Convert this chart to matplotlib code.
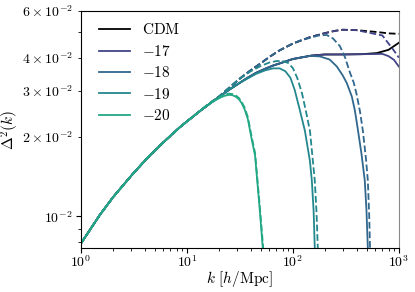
import numpy as np
import matplotlib
matplotlib.use("Agg")
import matplotlib.pyplot as plt

plt.rcParams["mathtext.fontset"] = "cm"
plt.rcParams["font.family"] = "serif"
plt.rcParams["font.serif"] = ["cmr10", "DejaVu Serif"]
plt.rcParams["axes.formatter.use_mathtext"] = True
plt.rcParams["font.size"] = 10

# values (k in h/Mpc, Delta^2)
k_cdm = [1, 1.5, 2, 3, 4.2, 6, 8.6, 10, 13.3, 17.6, 25, 31.6, 36.8, 45, 55, 65, 75,
         100, 150, 200, 300, 450, 620, 800, 1000]
d_cdm = [0.0079, 0.0101, 0.0118, 0.0143, 0.0166, 0.0191, 0.0218, 0.0229, 0.0251,
         0.0273, 0.0302, 0.0321, 0.0334, 0.0350, 0.0363, 0.0373, 0.0380, 0.0395,
         0.0407, 0.0411, 0.0411, 0.0412, 0.0416, 0.0428, 0.0455]

k_cdm_d = [1, 1.5, 2, 3, 4.2, 6, 8.6, 10, 13.3, 17.6, 20, 25, 31.6, 40, 50, 60, 75,
           100, 145, 200, 250, 296, 400, 620, 800, 1000]
d_cdm_d = [0.0079, 0.0101, 0.0118, 0.0143, 0.0166, 0.0191, 0.0218, 0.0229, 0.0251,
           0.0274, 0.0284, 0.0307, 0.0333, 0.0358, 0.0381, 0.0402, 0.0426, 0.0452,
           0.0478, 0.0495, 0.0505, 0.0510, 0.0508, 0.0500, 0.0494, 0.0492]

k_17 = k_cdm[:-3] + [700, 800, 900, 1000]
d_17 = d_cdm[:-3] + [0.0413, 0.0405, 0.0392, 0.0370]
k_17_d = k_cdm_d[:-3] + [700, 800, 900, 1000]
d_17_d = d_cdm_d[:-3] + [0.0485, 0.0452, 0.0425, 0.0400]

k_18 = k_cdm[:18] + [145, 180, 223, 260, 296, 323, 360, 385, 411, 445, 477, 495, 510, 540]
d_18 = d_cdm[:18] + [0.0406, 0.0404, 0.0393, 0.0370, 0.0342, 0.0320, 0.0285, 0.0252,
                     0.0213, 0.0172, 0.0137, 0.0106, 0.0076, 0.005]
k_18_d = k_cdm_d[:18] + [120, 145, 175, 209, 240, 278, 310, 345, 375, 400, 430, 458,
                         490, 510, 525, 535, 560]
d_18_d = d_cdm_d[:18] + [0.0466, 0.0475, 0.0485, 0.0487, 0.0472, 0.0442, 0.0402,
                         0.0352, 0.0322, 0.0290, 0.0250, 0.0211, 0.0165, 0.0137,
                         0.0102, 0.0076, 0.005]

k_19 = k_cdm[:12] + [36.8, 45, 55, 65, 75, 85, 95, 104, 115, 130, 145, 151, 157, 161, 170]
d_19 = d_cdm[:12] + [0.0332, 0.0347, 0.0358, 0.0364, 0.0364, 0.0355, 0.0335, 0.0302,
                     0.0258, 0.0211, 0.0162, 0.0137, 0.0105, 0.0076, 0.005]
k_19_d = k_cdm_d[:13] + [40, 50, 60, 70, 80, 90, 100, 110, 122, 133, 145, 161, 167,
                         172, 180]
d_19_d = d_cdm_d[:13] + [0.0355, 0.0372, 0.0383, 0.0388, 0.0388, 0.0382, 0.0365,
                         0.0335, 0.0293, 0.0250, 0.0211, 0.0137, 0.0105, 0.0076, 0.005]

k_20 = k_cdm[:9] + [15, 17, 19, 21, 23, 25, 27, 29, 31, 33, 35, 37.6, 41, 44, 48.8, 52, 55]
d_20 = d_cdm[:9] + [0.0261, 0.0270, 0.0277, 0.0283, 0.0287, 0.0289, 0.0288, 0.0284,
                    0.0278, 0.0268, 0.0255, 0.0234, 0.0195, 0.0170, 0.0105, 0.0076, 0.005]
k_20_d = k_cdm_d[:9] + [15, 17, 19, 21, 23, 25, 27, 29, 31, 33, 35, 37.6, 41, 44, 48.8,
                        52.5, 55]
d_20_d = d_cdm_d[:9] + [0.0262, 0.0271, 0.0279, 0.0285, 0.0290, 0.0292, 0.0291,
                        0.0287, 0.0281, 0.0271, 0.0259, 0.0238, 0.0199, 0.0174,
                        0.0109, 0.0076, 0.005]

labels = [r"$-17$", r"$-18$", r"$-19$", r"$-20$"]
colors = plt.cm.viridis(np.linspace(0.2, 0.6, 4))

solid = [(k_17, d_17), (k_18, d_18), (k_19, d_19), (k_20, d_20)]
dashed = [(k_17_d, d_17_d), (k_18_d, d_18_d), (k_19_d, d_19_d), (k_20_d, d_20_d)]

fig = plt.figure(figsize=(4.15, 2.92), dpi=100)
ax = fig.add_axes([0.195, 0.151, 0.766, 0.811])

lw = 1.3
ax.plot(k_cdm, d_cdm, color="black", lw=lw, label=r"$\mathrm{CDM}$")
ax.plot(k_cdm_d, d_cdm_d, color="black", lw=lw, ls="--")
for (ks, ds), (kd, dd), lab, c in zip(solid, dashed, labels, colors):
    ax.plot(ks, ds, color=c, lw=lw, label=lab)
    ax.plot(kd, dd, color=c, lw=lw, ls="--")

ax.set_xscale("log")
ax.set_yscale("log")
ax.set_xlim(1, 1000)
ax.set_ylim(0.0076, 0.06)
ax.tick_params(which="major", pad=2.5)
ax.tick_params(axis="x", which="major", pad=1)
ax.set_xlabel(r"$k\ [h/\mathrm{Mpc}]$", fontsize=11, labelpad=-1)
ax.set_ylabel(r"$\Delta^2(k)$", fontsize=11, labelpad=1)
ax.spines["right"].set_color("#888888")

ax.legend(loc="upper left", frameon=False, fontsize=11, handlelength=2.0,
          labelspacing=0.42, bbox_to_anchor=(0.015, 1.01))

plt.savefig("out.png", dpi=100)
